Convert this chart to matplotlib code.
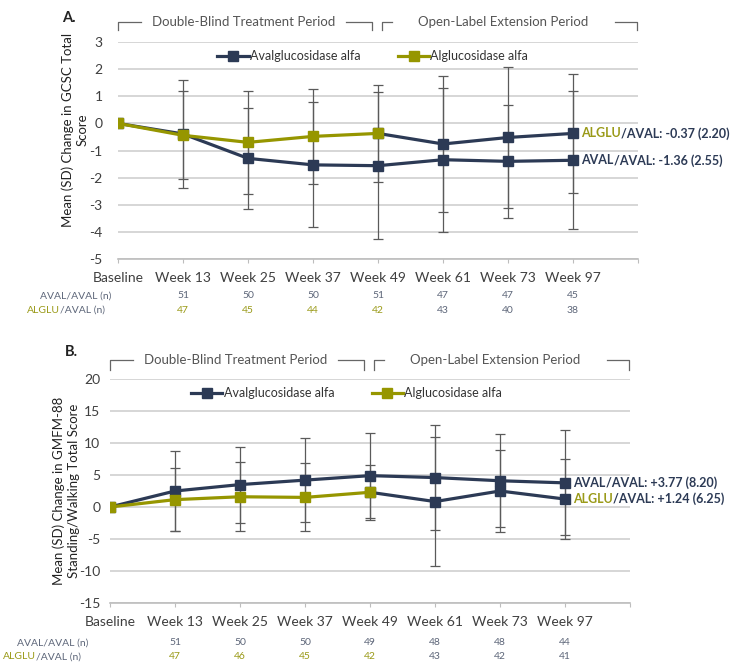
import numpy as np
import matplotlib
matplotlib.use("Agg")
import matplotlib.pyplot as plt
from matplotlib.lines import Line2D
from matplotlib.transforms import blended_transform_factory

plt.rcParams["font.family"] = ["Lato", "DejaVu Sans"]
plt.rcParams["axes.unicode_minus"] = False

visits = ["Baseline", "Week 13", "Week 25", "Week 37", "Week 49", "Week 61", "Week 73", "Week 97"]

# panel A: GCSC total score
aval_a_mean = [0, -0.39, -1.29, -1.53, -1.56, -1.34, -1.40, -1.36]
aval_a_sd = [0, 2.0, 1.85, 2.3, 2.72, 2.66, 2.08, 2.55]
alglu_a_mean = [0, -0.44, -0.70, -0.48, -0.37, -0.76, -0.52, -0.37]
alglu_a_sd = [0, 1.62, 1.9, 1.75, 1.79, 2.5, 2.6, 2.20]
aval_a_n = [51, 50, 50, 51, 47, 47, 45]
alglu_a_n = [47, 45, 44, 42, 43, 40, 38]

# panel B: GMFM-88 standing/walking
aval_b_mean = [0, 2.5, 3.5, 4.2, 4.9, 4.6, 4.1, 3.77]
aval_b_sd = [0, 6.3, 5.95, 6.6, 6.65, 8.2, 7.25, 8.20]
alglu_b_mean = [0, 1.15, 1.6, 1.5, 2.3, 0.85, 2.5, 1.24]
alglu_b_sd = [0, 4.9, 5.4, 5.3, 4.3, 10.1, 6.4, 6.25]
aval_b_n = [51, 50, 50, 49, 48, 48, 44]
alglu_b_n = [47, 46, 45, 42, 43, 42, 41]

NAVY = "#2c3a55"
OLIVE = "#969600"
OLIVE_TXT = "#9a9a18"
GRID = "#cfcfcf"
ERR = "#5a5a5a"
TXT = "#3f3f3f"
NTXT = "#5d6679"

switch = 4  # last double-blind visit (Week 49)


def draw_panel(ax, aval_m, aval_s, alglu_m, alglu_s, yticks, rows, ann, ylab_pos, ylabel, letter, letter_pos,
               brk_y, legend_x, row_y, row_lbl_x):
    x = np.arange(len(visits))
    # error bars first (under the lines)
    for m, s in [(aval_m, aval_s), (alglu_m, alglu_s)]:
        ax.errorbar(x[1:], m[1:], yerr=s[1:], fmt="none", ecolor=ERR, elinewidth=0.9,
                    capsize=3.5, capthick=0.9, zorder=2)
    mk = dict(marker="s", markersize=7.5, linewidth=2.3)
    ax.plot(x, aval_m, color=NAVY, zorder=3, **mk)
    ax.plot(x[switch:], alglu_m[switch:], color=NAVY, zorder=3, **mk)
    ax.plot(x[:switch + 1], alglu_m[:switch + 1], color=OLIVE, zorder=4, **mk)

    ax.set_xlim(0, 8)
    ax.set_ylim(yticks[0], yticks[-1])
    ax.set_yticks(yticks)
    ax.set_xticks(range(9))
    ax.set_xticklabels([])
    ax.grid(axis="y", color=GRID, linewidth=1.2)
    ax.set_axisbelow(True)
    for sp in ["top", "right", "left"]:
        ax.spines[sp].set_visible(False)
    ax.spines["bottom"].set_color("#bdbdbd")
    ax.spines["bottom"].set_linewidth(1.2)
    ax.tick_params(axis="x", length=3, color="#bdbdbd")
    ax.tick_params(axis="y", length=0, pad=ylab_pos[2], labelsize=10, labelcolor=TXT)

    tr = blended_transform_factory(ax.transData, ax.transAxes)
    for i, v in enumerate(visits):
        ax.text(i, row_y[2], v, transform=tr, ha="center", va="center", fontsize=10, color=TXT)

    # legend
    handles = [Line2D([], [], color=NAVY, **mk), Line2D([], [], color=OLIVE, **mk)]
    ax.legend(handles, ["Avalglucosidase alfa", "Alglucosidase alfa"], ncol=2, frameon=False,
              loc="center", bbox_to_anchor=(legend_x, brk_y[2]), fontsize=9, handlelength=2.5,
              handletextpad=0.1, columnspacing=3.0, labelcolor="#333333")

    # period brackets
    yb, yt = brk_y[0], brk_y[1]
    for xs, ys in [([0, 0, 0.36], [yt, yb, yb]), ([3.5, 3.9, 3.9], [yb, yb, yt]),
                   ([4.06, 4.06, 4.22], [yt, yb, yb]), ([7.65, 7.99, 7.99], [yb, yb, yt])]:
        ax.add_line(Line2D(xs, ys, transform=tr, color="#666666", linewidth=0.9, clip_on=False))
    ax.text(1.93, yb, "Double-Blind Treatment Period", transform=tr, ha="center", va="center",
            fontsize=9.5, color="#555555")
    ax.text(5.93, yb, "Open-Label Extension Period", transform=tr, ha="center", va="center",
            fontsize=9.5, color="#555555")

    # n rows
    fig = ax.figure
    for i in range(1, len(visits)):
        ax.text(i, row_y[0], str(rows[0][i - 1]), transform=tr, ha="center", va="center",
                fontsize=7.5, color=NTXT)
        ax.text(i, row_y[1], str(rows[1][i - 1]), transform=tr, ha="center", va="center",
                fontsize=7.5, color=OLIVE_TXT if i <= switch else NTXT)
    ax.text(row_lbl_x, row_y[0], "AVAL/AVAL (n)", transform=ax.transAxes, ha="right", va="center",
            fontsize=7.5, color=NTXT)
    t = ax.text(row_lbl_x - 0.1, row_y[1], "ALGLU", transform=ax.transAxes, ha="right", va="center",
                fontsize=7.5, color=OLIVE_TXT)
    ax.annotate("/AVAL (n)", xy=(1, 0.5), xycoords=t, ha="left", va="center", fontsize=7.5, color=NTXT)

    # end annotations
    for yv, pre, rest in ann:
        t = ax.annotate(pre, xy=(7, yv), xytext=(6, 0), textcoords="offset points", ha="left",
                        va="center", fontsize=9, fontweight="bold",
                        color=OLIVE_TXT if pre == "ALGLU" else NAVY, annotation_clip=False)
        ax.annotate(rest, xy=(1, 0.5), xycoords=t, ha="left", va="center", fontsize=9,
                    fontweight="bold", color=NAVY)

    fig.text(ylab_pos[0], ylab_pos[1], ylabel, rotation=90, ha="center", va="center",
             multialignment="center", fontsize=9.5, color="#222222", linespacing=1.3)
    fig.text(letter_pos[0], letter_pos[1], letter, fontsize=10.5, fontweight="bold", color="#222222",
             ha="left", va="center")


fig = plt.figure(figsize=(7.39, 6.62), dpi=100)
ax_a = fig.add_axes([118 / 739, 1 - 259 / 662, 520 / 739, 217 / 662])
ax_b = fig.add_axes([110 / 739, 1 - 603 / 662, 520 / 739, 224 / 662])

draw_panel(ax_a, aval_a_mean, aval_a_sd, alglu_a_mean, alglu_a_sd, list(range(-5, 4)),
           (aval_a_n, alglu_a_n),
           [(alglu_a_mean[-1], "ALGLU", "/AVAL: -0.37 (2.20)"), (aval_a_mean[-1], "AVAL", "/AVAL: -1.36 (2.55)")],
           (75 / 739, 1 - 130 / 662, 11), "Mean (SD) Change in GCSC Total\nScore", "A.", (62 / 739, 1 - 18 / 662),
           (1.092, 1.055, 0.935), 0.49, (-0.17, -0.237, -0.089), -0.012)

draw_panel(ax_b, aval_b_mean, aval_b_sd, alglu_b_mean, alglu_b_sd, list(range(-15, 21, 5)),
           (aval_b_n, alglu_b_n),
           [(aval_b_mean[-1], "AVAL", "/AVAL: +3.77 (8.20)"), (alglu_b_mean[-1], "ALGLU", "/AVAL: +1.24 (6.25)")],
           (66 / 739, 1 - 491 / 662, 7), "Mean (SD) Change in GMFM-88\nStanding/Walking Total Score", "B.",
           (65 / 739, 1 - 352 / 662), (1.086, 1.04, 0.937), 0.455, (-0.177, -0.24, -0.0835), -0.042)

fig.savefig("out.png", dpi=100)
